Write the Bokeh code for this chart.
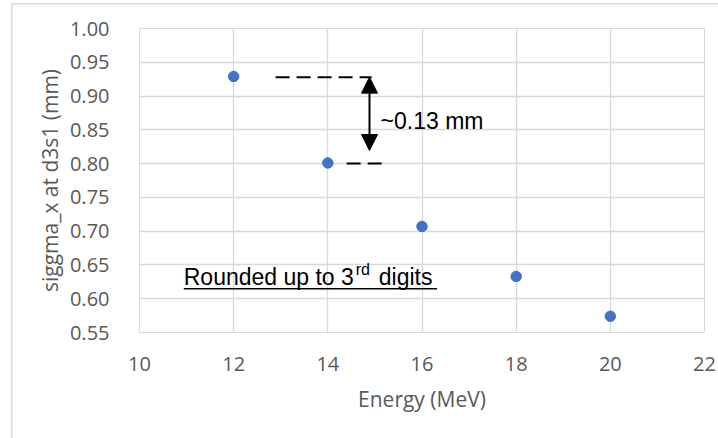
from bokeh.plotting import figure
from bokeh.models import (ColumnDataSource, FixedTicker, NumeralTickFormatter, Arrow,
                          NormalHead, Range1d)
from bokeh.core.properties import value
from bokeh.embed import file_html
from bokeh.resources import INLINE

# ---- data ----
energy = [12, 14, 16, 18, 20]
sigma_x = [0.929, 0.801, 0.707, 0.633, 0.574]
x_ticks = [10, 12, 14, 16, 18, 20, 22]
y_ticks = [0.55, 0.60, 0.65, 0.70, 0.75, 0.80, 0.85, 0.90, 0.95, 1.00]
x_label = "Energy (MeV)"
y_label = "siggma_x at d3s1 (mm)"
diff_label = "~0.13 mm"
note_parts = ["Rounded up to 3", "rd", " digits"]

GRID = "#d9d9d9"
TXT = "#595959"

p = figure(width=718, height=438, output_backend="svg", toolbar_location=None,
           x_range=Range1d(10, 22), y_range=Range1d(0.55, 1.00),
           min_border_left=139, min_border_right=14, min_border_top=28,
           min_border_bottom=106)
p.outline_line_color = GRID
p.background_fill_color = "white"
p.border_fill_color = None
p.styles = {
    "background": ("linear-gradient(#d9d9d9,#d9d9d9) 11px 3px / 1.5px 100% no-repeat, "
                   "linear-gradient(#d9d9d9,#d9d9d9) 11px 3px / 100% 1.5px no-repeat, white"),
}

for ax in (p.xaxis[0], p.yaxis[0]):
    ax.axis_line_color = None
    ax.major_tick_line_color = None
    ax.minor_tick_line_color = None
    ax.major_label_text_color = TXT
    ax.major_label_text_font = "Open Sans"
    ax.major_label_text_font_size = "20px"
    ax.axis_label_text_color = TXT
    ax.axis_label_text_font = "Open Sans"
    ax.axis_label_text_font_size = "21px"
    ax.axis_label_text_font_style = "normal"

p.xaxis.ticker = FixedTicker(ticks=x_ticks)
p.yaxis.ticker = FixedTicker(ticks=y_ticks)
p.yaxis.formatter = NumeralTickFormatter(format="0.00")
p.xaxis.axis_label = x_label
p.yaxis.axis_label = y_label
p.xaxis.major_label_standoff = 18
p.xaxis.axis_label_standoff = 11
p.yaxis.major_label_standoff = 24
p.yaxis.axis_label_standoff = 3

p.xgrid.ticker = FixedTicker(ticks=x_ticks)
p.ygrid.ticker = FixedTicker(ticks=y_ticks)
p.xgrid.grid_line_color = GRID
p.ygrid.grid_line_color = GRID
p.xgrid.grid_line_width = 1.3
p.ygrid.grid_line_width = 1.3

# data points
src = ColumnDataSource(dict(x=energy, y=sigma_x))
p.scatter("x", "y", source=src, size=10.5, color="#4472C4", line_color="#4472C4")

# annotation: dashed reference lines
p.line([12.89, 14.93], [0.928, 0.928], line_color="black", line_width=2, line_dash="14 7")
p.line([14.40, 15.16], [0.800, 0.800], line_color="black", line_width=2, line_dash="14 7")

# double arrow
p.add_layout(Arrow(x_start=14.885, y_start=0.8194, x_end=14.885, y_end=0.928,
                   line_color="black", line_width=2,
                   start=NormalHead(size=16, fill_color="black", line_color="black"),
                   end=NormalHead(size=16, fill_color="black", line_color="black")))

p.text(x=[15.12], y=[0.8633], text=[diff_label], text_font=value("Liberation Sans"),
       text_font_size="23px", text_color="black", text_baseline="alphabetic")

# note with superscript
NX, NY = 10.94, 0.6318
p.text(x=[NX], y=[NY], text=[note_parts[0]], text_font=value("Liberation Sans"),
       text_font_size="23px", text_color="black", text_baseline="alphabetic")
p.text(x=[NX], y=[NY], text=[note_parts[1]], text_font=value("Liberation Sans"),
       text_font_size="16px", text_color="black", text_baseline="alphabetic",
       x_offset=172, y_offset=-8)
p.text(x=[NX], y=[NY], text=[note_parts[2]], text_font=value("Liberation Sans"),
       text_font_size="23px", text_color="black", text_baseline="alphabetic",
       x_offset=195)
p.line([10.94, 16.32], [0.6147, 0.6147], line_color="black", line_width=1.6)

open("out.html", "w").write(file_html(p, INLINE))
